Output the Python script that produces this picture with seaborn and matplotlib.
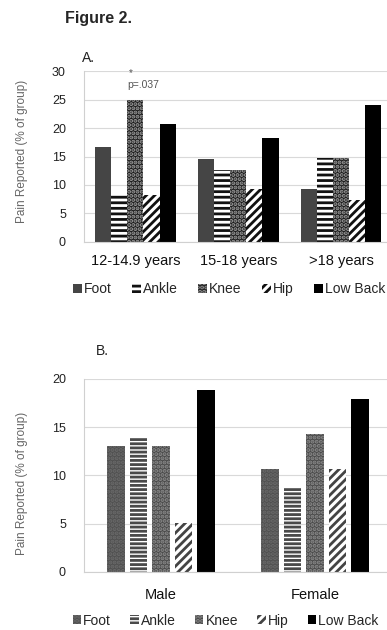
import matplotlib
matplotlib.use("Agg")
import matplotlib.pyplot as plt
import seaborn as sns
import pandas as pd
from matplotlib.patches import Patch

sns.set_style("white")
plt.rcParams['font.family'] = ['Liberation Sans', 'DejaVu Sans']
plt.rcParams['hatch.linewidth'] = 2.0

sites = ["Foot", "Ankle", "Knee", "Hip", "Low Back"]

# Panel A: age groups
age_groups = ["12-14.9 years", "15-18 years", ">18 years"]
foot_a = [16.7, 14.5, 9.3]
ankle_a = [8.3, 12.7, 14.8]
knee_a = [25.0, 12.7, 14.8]
hip_a = [8.3, 9.3, 7.4]
lowback_a = [20.8, 18.3, 24.1]

# Panel B: sex
sexes = ["Male", "Female"]
foot_b = [13.0, 10.7]
ankle_b = [14.0, 8.8]
knee_b = [13.0, 14.3]
hip_b = [5.1, 10.7]
lowback_b = [18.9, 17.9]

yticks_a = [0, 5, 10, 15, 20, 25, 30]
yticks_b = [0, 5, 10, 15, 20]


def long_df(groups, series):
    rows = []
    for site, vals in zip(sites, series):
        for g, v in zip(groups, vals):
            rows.append({"group": g, "site": site, "value": v})
    return pd.DataFrame(rows)


df_a = long_df(age_groups, [foot_a, ankle_a, knee_a, hip_a, lowback_a])
df_b = long_df(sexes, [foot_b, ankle_b, knee_b, hip_b, lowback_b])

# styles: (facecolor, hatchcolor, hatch)
style_a = {
    "Foot": ("#454545", "#454545", None),
    "Ankle": ("white", "#111111", "---"),
    "Knee": ("#1c1c1c", "#9a9a9a", "...."),
    "Hip": ("white", "#111111", "////"),
    "Low Back": ("black", "black", None),
}
style_b = {
    "Foot": ("#505050", "#6a6a6a", "...."),
    "Ankle": ("white", "#4a4a4a", "----"),
    "Knee": ("#4a4a4a", "#8a8a8a", "...."),
    "Hip": ("white", "#444444", "////"),
    "Low Back": ("black", "black", None),
}

fig = plt.figure(figsize=(3.87, 6.3), dpi=100)

axA = fig.add_axes([0.217, 0.6163, 0.798, 0.2705])
axB = fig.add_axes([0.217, 0.0925, 0.796, 0.306])


def draw(ax, df, order, style, width, gap, ylim, yticks, xpad):
    sns.barplot(data=df, x="group", y="value", hue="site", order=order,
                hue_order=sites, palette=["#444444"] * 5, width=width, gap=gap,
                saturation=1, legend=False, ax=ax, errorbar=None)
    for cont, site in zip(ax.containers, sites):
        fc, hc, h = style[site]
        for bar in cont:
            bar.set_facecolor(fc)
            bar.set_edgecolor(hc)
            bar.set_linewidth(0)
            if h:
                bar.set_hatch(h)
    ax.set_ylim(*ylim)
    ax.set_yticks(yticks)
    ax.set_xlim(-0.5, len(order) - 0.5)
    ax.yaxis.grid(True, color="#d9d9d9", linewidth=0.8)
    ax.set_axisbelow(True)
    for s in ["top", "right"]:
        ax.spines[s].set_visible(False)
    ax.spines["left"].set_color("#d0d0d0")
    ax.spines["bottom"].set_color("#d0d0d0")
    ax.spines["left"].set_linewidth(0.8)
    ax.spines["bottom"].set_linewidth(0.8)
    ax.tick_params(axis="y", length=0, labelsize=9, colors="#222222", pad=13)
    ax.tick_params(axis="x", length=0, labelsize=10.5, colors="#111111", pad=xpad)
    ax.set_xlabel("")
    ax.set_ylabel("Pain Reported (% of group)", fontsize=8.5, color="#666666")
    handles = []
    for site in sites:
        fc, hc, h = style[site]
        handles.append(Patch(facecolor=fc, edgecolor=hc, hatch=h, linewidth=0,
                             label=site))
    return handles


hA = draw(axA, df_a, age_groups, style_a, 0.78, 0, (0, 30), yticks_a, 9)
hB = draw(axB, df_b, sexes, style_b, 0.73, 0.22, (0, 20), yticks_b, 12)

axA.yaxis.set_label_coords(-0.181, 0.53)
axB.yaxis.set_label_coords(-0.182, 0.46)

axA.legend(handles=hA, loc="upper center", bbox_to_anchor=(0.47, -0.165),
           ncol=5, frameon=False, fontsize=10, handlelength=0.6,
           handleheight=0.6, handletextpad=0.15, columnspacing=1.5)
axB.legend(handles=hB, loc="upper center", bbox_to_anchor=(0.46, -0.152),
           ncol=5, frameon=False, fontsize=10, handlelength=0.6,
           handleheight=0.6, handletextpad=0.15, columnspacing=1.4)

axA.text(0.08, 27.6, "p=.037", ha="center", va="center", fontsize=7.5, color="#555555")
axA.text(-0.05, 29.7, "*", ha="center", va="center", fontsize=7, color="#555555",
         clip_on=False)

fig.text(65 / 387, 1 - 18 / 630, "Figure 2.", fontsize=11.5, fontweight="bold",
         ha="left", va="center")
fig.text(82 / 387, 1 - 58 / 630, "A.", fontsize=10, ha="left", va="center",
         color="#222222")
fig.text(96 / 387, 1 - 351 / 630, "B.", fontsize=10, ha="left", va="center",
         color="#222222")

fig.savefig("out.png", dpi=100)
